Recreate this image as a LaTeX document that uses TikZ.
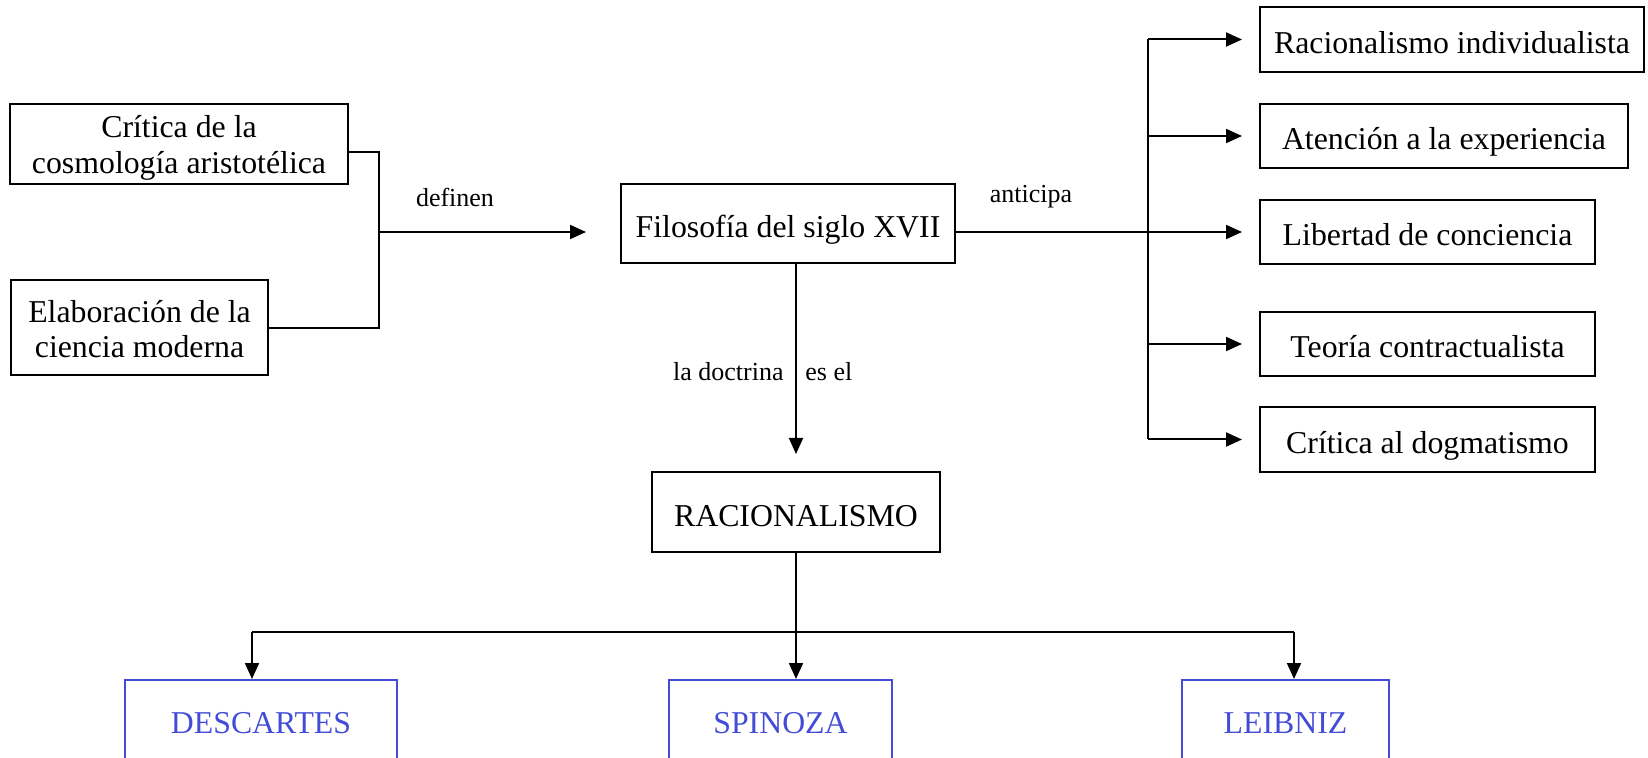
\documentclass[tikz,border=0pt]{standalone}
\usepackage{fontspec}
\setmainfont{Liberation Serif}
\usetikzlibrary{arrows.meta}
\definecolor{phblue}{RGB}{66,76,214}
\newcommand{\topstrut}{\rule{0pt}{15pt}}
\newcommand{\botstrut}{\rule[-2.4pt]{0pt}{2.4pt}}
\tikzset{
  box/.style={draw=black, line width=1pt, inner sep=0pt, align=center, font=\fontsize{15.9}{17.9}\selectfont},
  sbox/.style={box, text height=15pt, text depth=1pt},
  bluebox/.style={draw=phblue, line width=1pt, inner sep=0pt, text=phblue, font=\fontsize{15.9}{17.6}\selectfont},
  lbl/.style={inner sep=0pt, font=\fontsize{13}{15}\selectfont},
  conn/.style={line width=1pt},
  arr/.style={line width=1pt, -{Triangle[length=8pt,width=7pt]}},
}
\begin{document}
\begin{tikzpicture}[x=0.5pt,y=-0.5pt]
\useasboundingbox (0,0) rectangle (1648,758);
\clip (0,0) rectangle (1648,758);
% left boxes
\node[box, minimum width=169pt, minimum height=40pt] (crit) at (179,144) {\topstrut Crítica de la\\cosmología aristotélica\botstrut};
\node[box, minimum width=128.5pt, minimum height=47.5pt] (elab) at (139.5,327.5) {\topstrut Elaboración de la\\ciencia moderna\botstrut};
% central
\node[sbox, minimum width=167pt, minimum height=39.5pt] (filo) at (788,223.5) {Filosofía del siglo XVII};
\node[sbox, minimum width=144pt, minimum height=40pt] (raci) at (796,512) {RACIONALISMO};
% right boxes
\node[sbox, minimum width=192pt, minimum height=32.5pt] (r1) at (1452,39.5) {Racionalismo individualista};
\node[sbox, minimum width=184pt, minimum height=32pt] (r2) at (1444,136) {Atención a la experiencia};
\node[sbox, minimum width=167.5pt, minimum height=32pt] (r3) at (1427.5,232) {Libertad de conciencia};
\node[sbox, minimum width=167.5pt, minimum height=32pt] (r4) at (1427.5,344) {Teoría contractualista};
\node[sbox, minimum width=167.5pt, minimum height=32.5pt] (r5) at (1427.5,439.5) {Crítica al dogmatismo};
% bottom boxes
\node[bluebox, minimum width=136pt, minimum height=43pt] (desc) at (261,723) {DESCARTES};
\node[bluebox, minimum width=111.5pt, minimum height=43pt] (spin) at (780.5,723) {SPINOZA};
\node[bluebox, minimum width=103.5pt, minimum height=43pt] (leib) at (1285.5,723) {LEIBNIZ};
% labels
\node[lbl] (ldef) at (455,197) {definen};
\node[lbl] (lant) at (1031,197) {anticipa};
\node[lbl, anchor=east] (ldoc) at (784,372) {la doctrina};
\node[lbl, anchor=west] (lesel) at (805,372) {es el};
% left junction
\coordinate (lt) at (379,152);
\coordinate (lb) at (379,328);
\coordinate (lm) at (379,232);
\draw[conn] (crit.east |- lt) -- (lt) -- (lb) -- (elab.east |- lb);
\draw[arr, shorten >=17pt] (lm) -- (filo.west |- lm);
% right junction
\coordinate (rm) at (1148,232);
\draw[conn] (filo.east |- rm) -- (rm);
\draw[conn] (rm |- r1.west) -- (rm |- r5.west);
\foreach \b in {r1,r2,r3,r4,r5}{
  \draw[arr, shorten >=8.5pt] (rm |- \b.west) -- (\b.west);
}
% down to racionalismo
\draw[arr, shorten >=8.5pt] (raci.north |- filo.south) -- (raci.north);
% bottom tree
\coordinate (b1) at (252,632);
\coordinate (b2) at (796,632);
\coordinate (b3) at (1294,632);
\draw[conn] (raci.south) -- (b2);
\draw[conn] (b1) -- (b3);
\draw[arr] (b1) -- (b1 |- desc.north);
\draw[arr] (b2) -- (b2 |- spin.north);
\draw[arr] (b3) -- (b3 |- leib.north);
\end{tikzpicture}
\end{document}
